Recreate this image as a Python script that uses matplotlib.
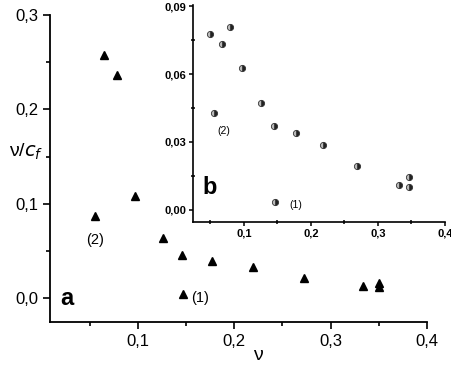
import matplotlib.pyplot as plt
from matplotlib.ticker import FuncFormatter, MultipleLocator

plt.rcParams["font.family"] = ["Liberation Sans", "DejaVu Sans"]

# --- data, main panel (a) ---
nu_a = [0.065, 0.079, 0.097, 0.056, 0.126, 0.146, 0.177, 0.147, 0.220, 0.272, 0.334, 0.350, 0.350]
ratio_a = [0.258, 0.236, 0.108, 0.087, 0.064, 0.046, 0.040, 0.005, 0.033, 0.022, 0.013, 0.016, 0.012]

# --- data, inset (b) ---
nu_b = [0.049, 0.079, 0.067, 0.097, 0.126, 0.055, 0.145, 0.177, 0.218, 0.268, 0.331, 0.346, 0.346, 0.147]
ratio_b = [0.0775, 0.0806, 0.0731, 0.0625, 0.0470, 0.0430, 0.0372, 0.0340, 0.0288, 0.0195, 0.0110, 0.0146, 0.0102, 0.0035]


def comma(fmt):
    return FuncFormatter(lambda v, _: (fmt % v).replace(".", ","))


def open_axes(ax):
    ax.spines["top"].set_visible(False)
    ax.spines["right"].set_visible(False)


fig = plt.figure(figsize=(4.52, 3.65), dpi=100)

ax = fig.add_axes([0.1106, 0.1178, 0.834, 0.841])
open_axes(ax)
ax.plot(nu_a, ratio_a, linestyle="none", marker="^", markersize=6, color="black")
ax.set_xlim(0.009, 0.4)
ax.set_ylim(-0.025, 0.3)
ax.xaxis.set_major_locator(MultipleLocator(0.1))
ax.xaxis.set_minor_locator(MultipleLocator(0.05))
ax.yaxis.set_major_locator(MultipleLocator(0.1))
ax.yaxis.set_minor_locator(MultipleLocator(0.05))
ax.xaxis.set_major_formatter(comma("%.1f"))
ax.yaxis.set_major_formatter(comma("%.1f"))
ax.tick_params(which="major", direction="out", length=5, width=1.2, labelsize=12)
ax.tick_params(which="minor", direction="out", length=3, width=1.2)
for s in ax.spines.values():
    s.set_linewidth(1.3)

# axis titles placed by hand, as in the original figure
fig.text(0.571, 0.025, "ν", fontsize=14, ha="center", va="center")
fig.text(0.058, 0.585, r"ν/$\mathit{c}_{f}$", fontsize=14, ha="center", va="center")

ax.text(0.027, 0.0, "a", fontsize=17, fontweight="bold", ha="center", va="center")
ax.annotate("(1)", (0.147, 0.005), xytext=(6, -3), textcoords="offset points",
            fontsize=10.5, va="center")
ax.annotate("(2)", (0.056, 0.087), xytext=(0, -17), textcoords="offset points",
            fontsize=10.5, ha="center", va="center")

# --- inset (b) ---
ins = fig.add_axes([0.427, 0.392, 0.5575, 0.5945])
open_axes(ins)
ins.plot(nu_b, ratio_b, linestyle="none", marker="o", markersize=4.5,
         fillstyle="right", markerfacecolor="#222222", markerfacecoloralt="#bbbbbb",
         markeredgecolor="#333333", markeredgewidth=0.6)
ins.set_xlim(0.024, 0.4)
ins.set_ylim(-0.0053, 0.0905)
ins.xaxis.set_major_locator(MultipleLocator(0.1))
ins.xaxis.set_minor_locator(MultipleLocator(0.05))
ins.yaxis.set_major_locator(MultipleLocator(0.03))
ins.yaxis.set_minor_locator(MultipleLocator(0.015))
ins.xaxis.set_major_formatter(comma("%.1f"))
ins.yaxis.set_major_formatter(comma("%.2f"))
ins.tick_params(which="major", direction="out", length=3, width=1.1, labelsize=8, pad=2)
ins.tick_params(which="minor", direction="inout", length=3, width=1.1)
for lbl in ins.get_xticklabels() + ins.get_yticklabels():
    lbl.set_fontweight("bold")
for s in ins.spines.values():
    s.set_linewidth(1.2)
ins.text(0.049, 0.0097, "b", fontsize=17, fontweight="bold", ha="center", va="center")
ins.annotate("(1)", (0.147, 0.0035), xytext=(10, -2), textcoords="offset points",
             fontsize=7.5, va="center")
ins.annotate("(2)", (0.055, 0.043), xytext=(7, -13), textcoords="offset points",
             fontsize=7.5, ha="center", va="center")

fig.savefig("out.png", dpi=100)
